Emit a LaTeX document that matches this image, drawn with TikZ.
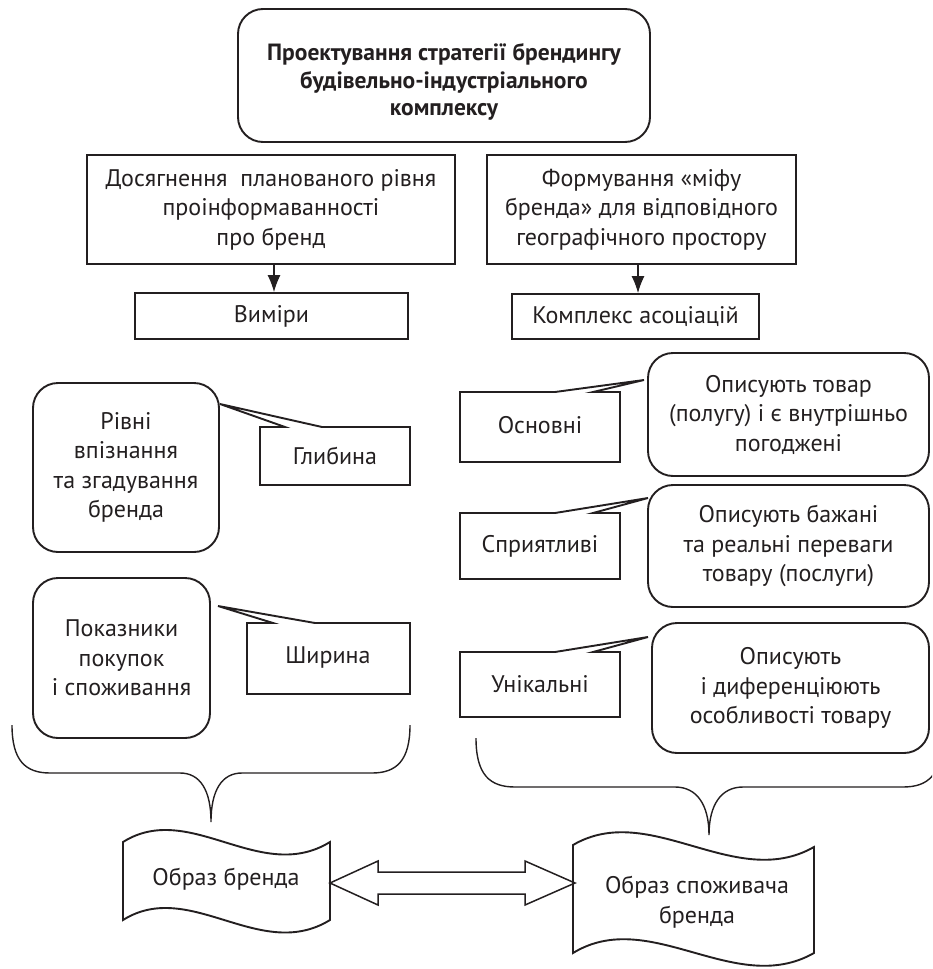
\documentclass[tikz,border=0pt]{standalone}
\usepackage{fontspec}
\setmainfont{PT Sans}
\usetikzlibrary{arrows.meta}
\definecolor{ink}{HTML}{231F20}
\begin{document}
\begin{tikzpicture}[x=1pt,y=-1pt, color=ink,
  every node/.style={font=\fontsize{24}{29.5}\selectfont, align=center, inner sep=0pt, text=ink},
  sq/.style={draw, line width=1.9pt},
  rbox/.style={draw, line width=1.9pt, rounded corners=25pt},
  shp/.style={line width=1.9pt, line join=miter},
  bracestyle/.style={line width=1.4pt},
  arr/.style={line width=1.1pt, -{Latex[length=17pt,width=13pt]}},
  boldtxt/.style={font=\bfseries\fontsize{23.5}{27.5}\selectfont},
]
\useasboundingbox (0,0) rectangle (932,969);
\clip (0,0) rectangle (932,969);

% top
\node[rbox, minimum width=412pt, minimum height=133pt] (top) at (444,75.5) {};
\node[boldtxt] (toptxt) at (444,82) {Проектування стратегії брендингу\\будівельно-індустріального\\комплексу};

% second level
\node[sq, minimum width=368pt, minimum height=109pt] (A) at (271,209.5) {Досягнення\ \ планованого рівня\\проінформаванності\\про бренд};
\node[sq, minimum width=309pt, minimum height=109pt] (B) at (641.5,209.5) {Формування «міфу\\бренда» для відповідного\\географічного простору};

\node[sq, minimum width=273pt, minimum height=46pt] (V) at (271.5,316) {Виміри};
\node[sq, minimum width=247pt, minimum height=45pt] (K) at (635.5,316.5) {Комплекс асоціацій};

\draw[arr] ([xshift=3pt]A.south) -- ([xshift=3pt]A.south |- V.north);
\draw[arr] ([xshift=-3.5pt]B.south) -- ([xshift=-3.5pt]B.south |- K.north);

% left callouts
\node[rbox, minimum width=186pt, minimum height=169pt] (R1) at (126,467.5) {Рівні\\впізнання\\та згадування\\бренда};
\node[rbox, minimum width=177pt, minimum height=160pt] (R2) at (121.5,658) {Показники\\покупок\\і споживання};

\draw[shp] (260,427) -- (285,427) -- (220,404) -- (322,427) -- (410,427) -- (410,485) -- (260,485) -- cycle;
\node (G) at (335,456) {Глибина};
\draw[shp] (247,623) -- (273,623) -- (218,606) -- (315,623) -- (410,623) -- (410,694) -- (247,694) -- cycle;
\node (W) at (328,657) {Ширина};

% right callouts
\draw[shp] (460,392) -- (555,392) -- (644,380) -- (593,392) -- (620,392) -- (620,462) -- (460,462) -- cycle;
\node (O) at (540,425) {Основні};
\node[rbox, minimum width=281pt, minimum height=123pt] (C1) at (788.5,414.5) {Описують товар\\(полугу) і є внутрішньо\\погоджені};

\draw[shp] (460,513) -- (555,513) -- (648,498) -- (593,513) -- (620,513) -- (620,579) -- (460,579) -- cycle;
\node (S) at (540,546) {Сприятливі};
\node[rbox, minimum width=281pt, minimum height=122pt] (C2) at (788.5,546) {Описують бажані\\та реальні переваги\\товару (послуги)};

\draw[shp] (460,652) -- (555,652) -- (648,637) -- (593,652) -- (620,652) -- (620,717) -- (460,717) -- cycle;
\node (U) at (540,684) {Унікальні};
\node[rbox, minimum width=277pt, minimum height=130pt] (C3) at (790.5,688) {Описують\\і диференціюють\\особливості товару};

% braces
\draw[bracestyle] (12,725) .. controls (12,760) and (25,773) .. (50,773) -- (180,773) .. controls (200,773) and (211,790) .. (211,822)
  .. controls (211,790) and (222,773) .. (242,773) -- (372,773) .. controls (397,773) and (410,760) .. (410,725);
\draw[bracestyle] (476,738) .. controls (476,775) and (490,787) .. (515,787) -- (675,787) .. controls (697,787) and (709,805) .. (709,835)
  .. controls (709,805) and (721,787) .. (743,787) -- (903,787) .. controls (928,787) and (942,775) .. (942,738);

% tapes
\draw[shp] (123,842) .. controls (190,800) and (260,885) .. (330,842) -- (330,920)
  .. controls (260,963) and (190,878) .. (123,920) -- cycle;
\node (T1) at (226,879) {Образ бренда};
\draw[shp] (573,845) .. controls (650,800) and (735,892) .. (814,847) -- (814,953)
  .. controls (735,998) and (650,906) .. (573,953) -- cycle;
\node (T2) at (697,902) {Образ споживача\\бренда};

% double arrow
\coordinate (tipL) at (330,883);
\coordinate (tipR) at (575,883);
\draw[line width=1.5pt, line join=miter] (tipL) -- ++(48,-22) -- ++(0,11) -- ++(147,0) -- ++(0,-11) -- (tipR)
  -- ++(-50,22) -- ++(0,-11) -- ++(-147,0) -- ++(0,11) -- cycle;
\end{tikzpicture}
\end{document}
